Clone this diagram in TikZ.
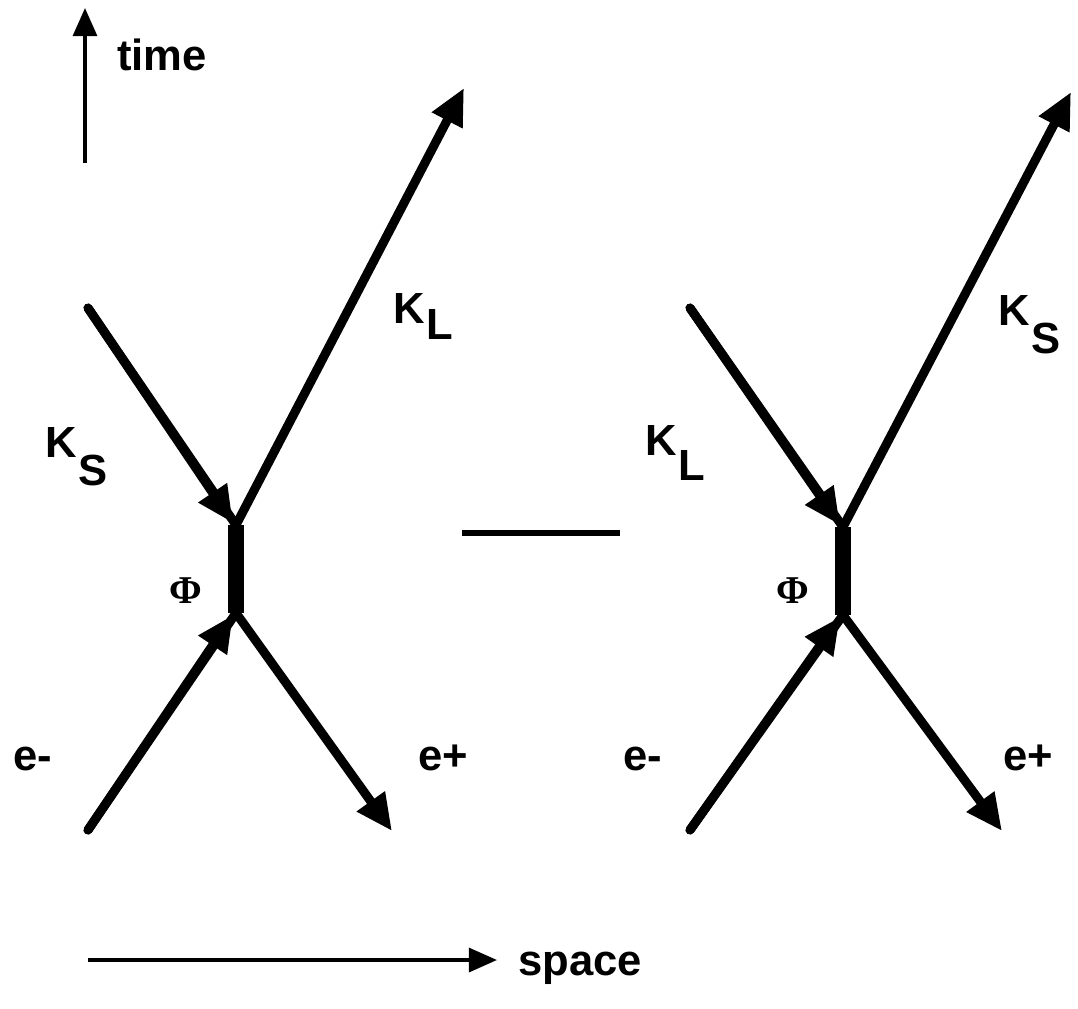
\documentclass[tikz,border=0pt]{standalone}
\usepackage{fontspec}
\setmainfont{Liberation Sans}
\newfontfamily\phifont{Liberation Serif}
\usetikzlibrary{arrows.meta,calc}

\newcommand{\kaon}[2]{K\kern1pt\raisebox{-#1}{#2}}

\begin{document}
\begin{tikzpicture}[
    x=0.025cm,
    y=-0.025cm,
    particle/.style={line width=6.4pt, line cap=round, -{Triangle[length=26pt, width=23pt]}},
    plain/.style={line width=6.4pt, line cap=round},
    blob/.style={line width=12pt},
    axis/.style={line width=2.6pt, -{Triangle[length=20pt, width=17pt]}},
    lbl/.style={inner sep=0pt, font=\fontsize{31}{36}\selectfont\bfseries},
    philbl/.style={inner sep=0pt, font=\fontsize{28}{30}\selectfont\bfseries\phifont}
]
\useasboundingbox (0,0) rectangle (1078,1008);

% axes
\coordinate (t0) at (85,163);
\coordinate (t1) at (85,8);
\draw[axis] (t0) -- (t1);
\node[lbl, anchor=base west] (time) at (117,70) {time};

\coordinate (s0) at (88,960);
\coordinate (s1) at (497,960);
\draw[axis] (s0) -- (s1);
\node[lbl, anchor=base west] (space) at (518,975) {space};

% left graph
\coordinate (Ltop) at (236,525);
\coordinate (Lbot) at (236,613);
\coordinate (Lin) at (88,308);
\coordinate (Lout) at (464,88);
\coordinate (Lem) at (88,830);
\coordinate (Lep) at (392,831);

\draw[blob] (Ltop) -- (Lbot);
\draw[particle] (Lin) -- ($(Ltop)+(-3,-2)$);
\draw[plain] (Lin) -- (Ltop);
\draw[particle] (Ltop) -- (Lout);
\draw[particle] (Lem) -- ($(Lbot)+(-3,2)$);
\draw[plain] (Lem) -- (Lbot);
\draw[particle] (Lbot) -- (Lep);

\node[lbl, anchor=base west] (LKs) at (45,457) {\kaon{20pt}{S}};
\node[lbl, anchor=base west] (LKl) at (393,323) {\kaon{12pt}{L}};
\node[philbl] (Lphi) at (186,591) {Φ};
\node[lbl, anchor=base west] (Lem-l) at (13,770) {e-};
\node[lbl, anchor=base west] (Lep-l) at (418,770) {e+};

% minus sign between the graphs
\coordinate (m0) at (462,533);
\coordinate (m1) at (620,533);
\draw[line width=3.6pt] (m0) -- (m1);

% right graph
\coordinate (Rtop) at (843,527);
\coordinate (Rbot) at (843,615);
\coordinate (Rin) at (690,308);
\coordinate (Rout) at (1071,92);
\coordinate (Rem) at (690,830);
\coordinate (Rep) at (1002,831);

\draw[blob] (Rtop) -- (Rbot);
\draw[plain] (Rin) -- (Rtop);
\draw[particle] (Rin) -- ($(Rtop)+(-3,-2)$);
\draw[particle] (Rtop) -- (Rout);
\draw[plain] (Rem) -- (Rbot);
\draw[particle] (Rem) -- ($(Rbot)+(-3,2)$);
\draw[particle] (Rbot) -- (Rep);

\node[lbl, anchor=base west] (RKl) at (645,455) {\kaon{18pt}{L}};
\node[lbl, anchor=base west] (RKs) at (998,325) {\kaon{20pt}{S}};
\node[philbl] (Rphi) at (793,591) {Φ};
\node[lbl, anchor=base west] (Rem-l) at (623,770) {e-};
\node[lbl, anchor=base west] (Rep-l) at (1003,770) {e+};
\end{tikzpicture}
\end{document}
